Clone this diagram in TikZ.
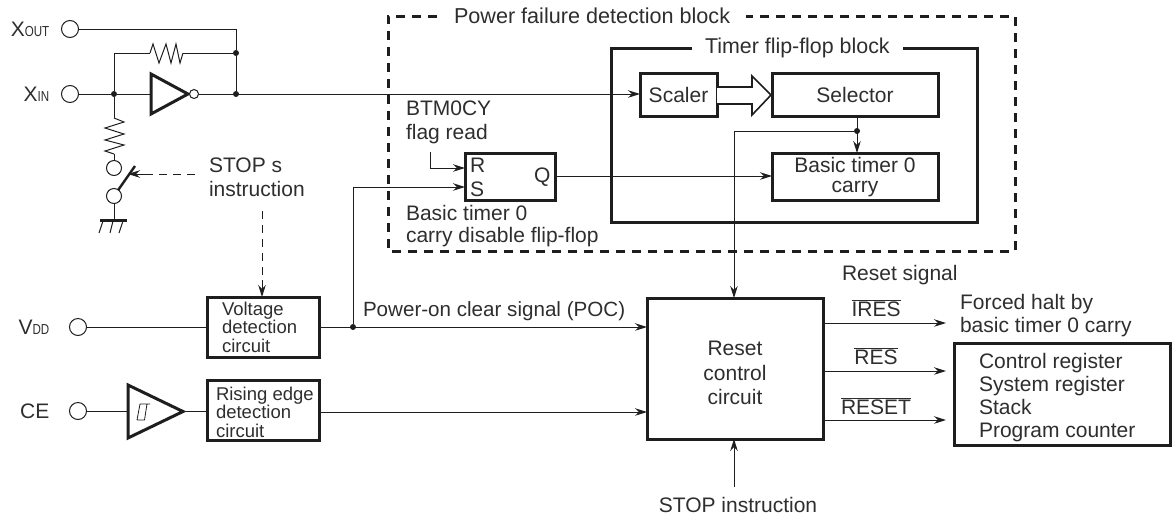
\documentclass[tikz,border=0pt]{standalone}
\usepackage{fontspec}
\setmainfont{Liberation Sans}
\usetikzlibrary{arrows.meta,calc}
\definecolor{ink}{HTML}{1E1E1E}
\definecolor{txt}{HTML}{2E2E2E}
\newcommand{\bigtxt}[1]{{\fontsize{21}{24}\selectfont #1}}
\newcommand{\smalltxt}[1]{{\fontsize{14.5}{16}\selectfont\scalebox{.8}[1]{#1}}}
\tikzset{
  x=1pt,y=-1pt,
  every node/.style={text=txt},
  thin line/.style={draw=ink,line width=1pt},
  arr/.style={thin line,-{Stealth[length=12pt,width=7.5pt]}},
  hv/.style={draw=ink,line width=3pt},
  blk/.style={draw=ink,line width=3pt,fill=white,inner sep=0pt,outer sep=0pt},
  term/.style={circle,draw=ink,line width=1pt,fill=white,minimum size=17pt,inner sep=0pt,outer sep=0pt},
  dot/.style={circle,fill=ink,minimum size=6pt,inner sep=0pt,outer sep=0pt},
  lab/.style={font=\fontsize{21}{24}\selectfont,inner sep=0pt,outer sep=0pt,align=left},
  labc/.style={lab,align=center},
  labb/.style={font=\fontsize{18.5}{18.5}\selectfont,inner sep=0pt,outer sep=0pt,align=left},
  dash frame/.style={draw=ink,line width=3pt,dash pattern=on 9pt off 7pt},
  dash thin/.style={draw=ink,line width=1pt,dash pattern=on 8pt off 6pt},
}
\begin{document}
\begin{tikzpicture}
\useasboundingbox (0,0) rectangle (1172,515);
% Frames
\draw[dash frame] (437,16) -- (388,16) -- (388,251) -- (1015,251) -- (1015,16) -- (746,16);
\node[lab,anchor=west,font=\fontsize{21.6}{24}\selectfont] (pfd) at (454,16) {Power failure detection block};
\draw[blk] (692,48) -- (611,48) -- (611,222) -- (977,222) -- (977,48) -- (903,48);
\node[lab,anchor=west,font=\fontsize{21.4}{24}\selectfont] (tff) at (705,48) {Timer flip-flop block};
% Terminals
\node[term] (xout) at (70,29) {};
\node[term] (xin) at (70,94) {};
\node[term] (vdd) at (78,327) {};
\node[term] (ce) at (78,411) {};
\node[inner sep=0pt,anchor=east] (lxout) at (49.5,29) {\bigtxt{X}\smalltxt{OUT}};
\node[inner sep=0pt,anchor=east] (lxin) at (49.5,94) {\bigtxt{X}\smalltxt{IN}};
\node[inner sep=0pt,anchor=east] (lvdd) at (49.5,327) {\bigtxt{V}\smalltxt{DD}};
\node[inner sep=0pt,anchor=east] (lce) at (49.5,411) {\bigtxt{CE}};
% Blocks
\node[blk,minimum width=112pt,minimum height=60pt] (vdet) at (263,327) {};
\node[blk,minimum width=112pt,minimum height=60pt] (redge) at (263,410.5) {};
\node[blk,minimum width=90pt,minimum height=47pt] (ff) at (510,176.5) {};
\node[blk,minimum width=77pt,minimum height=43pt] (scaler) at (678.5,94.5) {};
\node[blk,minimum width=166pt,minimum height=43pt] (sel) at (855,94.5) {};
\node[blk,minimum width=166pt,minimum height=47pt] (carry) at (855,176.5) {};
\node[blk,minimum width=176pt,minimum height=141pt] (reset) at (735,368.5) {};
\node[blk,minimum width=216pt,minimum height=102pt] (regs) at (1062.5,394) {};
% Block texts
\node[labb,anchor=west] (tv) at (222,327) {Voltage\\detection\\circuit};
\node[labb,anchor=west] (te) at (216,412) {Rising edge\\detection\\circuit};
\node[lab] (ts) at (678.5,95) {Scaler};
\node[lab] (tsel) at (855,95) {Selector};
\node[labc,font=\fontsize{21}{20}\selectfont] (tc) at (855,177) {Basic timer 0\\carry};
\node[labc,font=\fontsize{21}{24.5}\selectfont] (tr) at (735,373) {Reset\\control\\circuit};
\node[lab,anchor=west,font=\fontsize{21}{23}\selectfont] (tregs) at (979,398) {Control register\\System register\\Stack\\Program counter};
\node[lab,anchor=west] (tR) at (470,165) {R};
\node[lab,anchor=west] (tS) at (470,189) {S};
\node[lab,anchor=west] (tQ) at (534,177) {Q};
% Free labels
\node[lab,anchor=west] (lbtm) at (406,122) {BTM0CY\\flag read};
\node[lab,anchor=west,font=\fontsize{21}{22.5}\selectfont] (lff) at (406,226) {Basic timer 0\\carry disable flip-flop};
\node[lab,anchor=west] (lstop) at (209,177) {STOP s\\instruction};
\node[lab,anchor=west,font=\fontsize{20.6}{24}\selectfont] (lpoc) at (363,311) {Power-on clear signal (POC)};
\node[lab,anchor=west] (lrs) at (842,275) {Reset signal};
\node[lab,anchor=center] (lires) at (876,308) {$\overline{\mbox{IRES}}$};
\node[lab,anchor=center] (lres) at (876,356) {$\overline{\mbox{RES}}$};
\node[lab,anchor=center] (lreset) at (876,406) {$\overline{\mbox{RESET}}$};
\node[lab,anchor=west,font=\fontsize{21}{23}\selectfont] (lhalt) at (960,316) {Forced halt by\\basic timer 0 carry};
\node[lab,anchor=center] (lstopi) at (738,505) {STOP instruction};
% Junctions and free ends
\node[dot] (j1) at (236,53) {};
\node[dot] (j2) at (236,94) {};
\node[dot] (j3) at (114,94) {};
\node[dot] (j4) at (353,327) {};
\node[dot] (j5) at (857,131) {};
\coordinate (invin) at (151,94);
\coordinate (rh1) at (150,53);
\coordinate (rh2) at (183,53);
\coordinate (rv1) at (114,118);
\coordinate (rv2) at (114,154);
\coordinate (flag) at (430,152);
\coordinate (stopfree) at (734,487);
\coordinate (haltend) at (946,323);
\coordinate (resend) at (946,371);
\coordinate (resetend) at (946,420);
\coordinate (dash1) at (195,174);
\coordinate (swtip) at (128,174);
\coordinate (dash2) at (262,211);
% Inverter
\draw[hv,line join=miter,fill=white] (151,74) -- (188,94) -- (151,114) -- cycle;
\node[circle,draw=ink,line width=1pt,fill=white,minimum size=9pt,inner sep=0pt,outer sep=0pt] (bub) at (194,94) {};
% Schmitt buffer
\draw[hv,line join=miter] (128,385) -- (183,411.5) -- (128,438) -- cycle;
\draw[draw=ink,line width=.8pt] (150,404) -- (140,404) -- (137,420) (144.5,420) -- (137,420) (147,404) -- (144.5,420);
% Wires
\draw[thin line] (xout) -- (xout -| j2) -- (j1);
\draw[thin line] (j1) -- (j2);
\draw[thin line] (j3) -- (j3 |- j1) -- (rh1);
\draw[thin line] (rh1) -- (153,44) -- (159,63) -- (166,44) -- (171,63) -- (176,44) -- (180,63) -- (rh2);
\draw[thin line] (rh2) -- (j1);
\draw[thin line] (xin) -- (j3);
\draw[thin line] (j3) -- (invin);
\draw[arr] (bub) -- (scaler.west |- bub);
\draw[thin line] (j3) -- (rv1);
\draw[thin line] (rv1) -- (124,122) -- (105,128) -- (124,134) -- (105,140) -- (124,145) -- (105,151) -- (rv2);
\node[term,minimum size=15pt] (sw1) at (114,168) {};
\node[term,minimum size=15pt] (sw2) at (114,196) {};
\draw[thin line] (rv2) -- (sw1);
\draw[draw=ink,line width=2.4pt] (sw2) -- (135,166);
\coordinate (gnd) at (114,220);
\draw[thin line] (sw2) -- (gnd);
\draw[hv] (100,220) -- (127,220);
\draw[thin line] (103,221) -- (99,233) (113,221) -- (110,233) (123,221) -- (119,233);
\draw[dash thin] (dash1) -- (147,174);
\draw[arr] (147,174) -- (swtip);
\draw[dash thin] (dash2) -- (262,280);
\draw[arr] (262,280) -- (vdet.north -| 262,0);
\draw[thin line] (vdd) -- (vdet.west |- vdd);
\draw[thin line] (ce) -- (128,411);
\draw[thin line] (183,411) -- (redge.west |- 0,411);
\draw[arr] (redge.east |- 0,412) -- (reset.west |- 0,412);
\draw[arr] (vdet.east |- vdd) -- (reset.west |- vdd);
\draw[arr] (j4) |- (ff.west |- 0,187);
\draw[arr] (flag |- 0,152) |- (ff.west |- 0,168);
\draw[arr] (ff.east |- 0,176) -- (carry.west |- 0,176);
\draw[arr] (sel.south -| j5) -- (carry.north -| j5);
\draw[arr] (j5) -| (reset.north -| 734,0);
\draw[arr] (stopfree) -- (reset.south -| stopfree);
\draw[arr] (reset.east |- haltend) -- (haltend);
\draw[arr] (reset.east |- resend) -- (resend);
\draw[arr] (reset.east |- resetend) -- (resetend);
% Hollow arrow
\draw[draw=ink,line width=1.6pt,line join=miter,fill=white] (scaler.east |- 0,87) -- (752,87) -- (752,76) -- (771,95) -- (752,115) -- (752,104) -- (scaler.east |- 0,104);
\end{tikzpicture}
\end{document}
